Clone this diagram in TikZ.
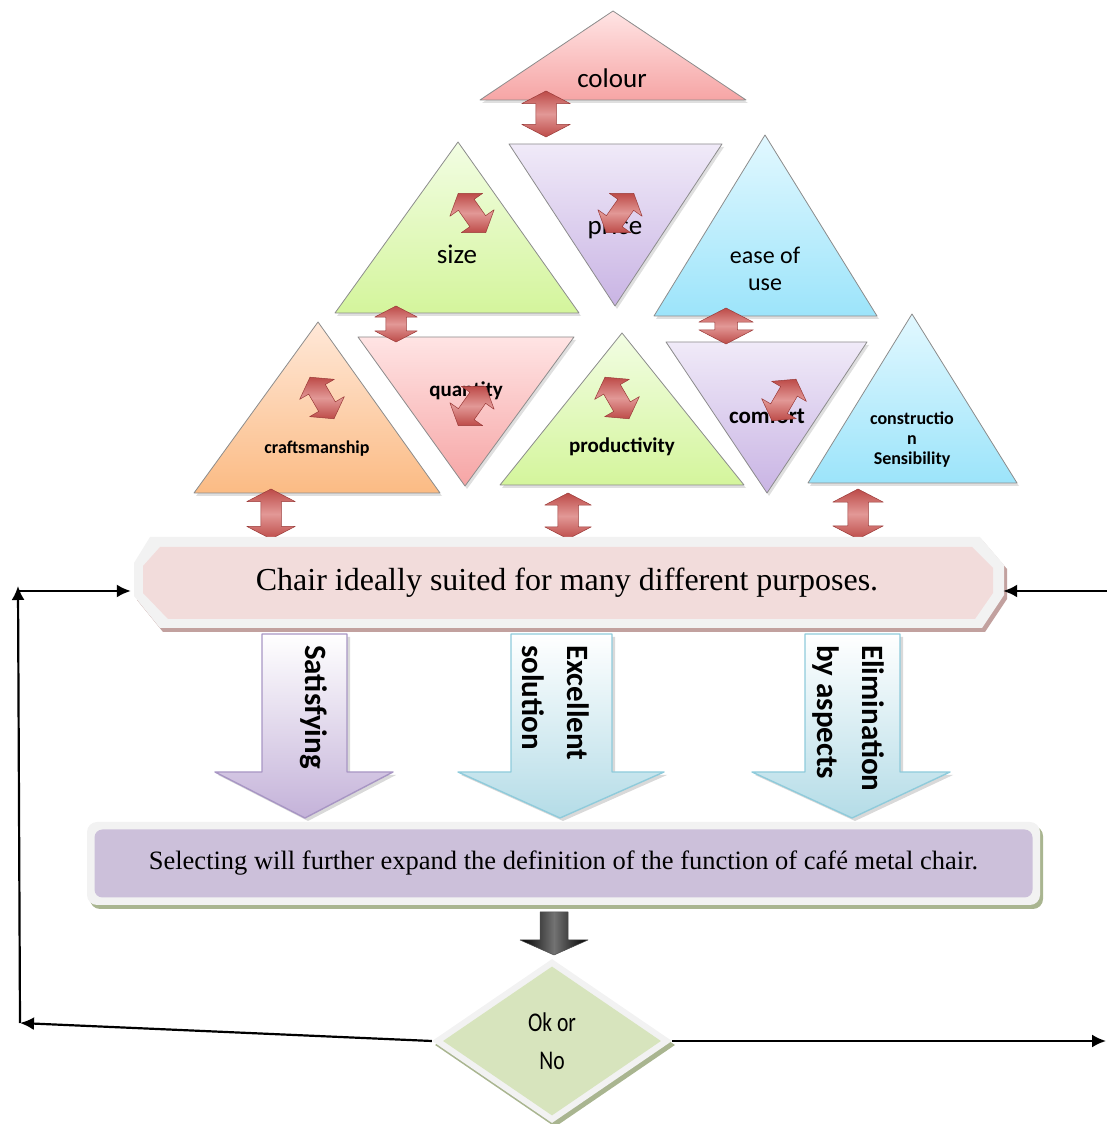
\documentclass[tikz,border=0pt]{standalone}
\usepackage{fontspec}
\setmainfont{Liberation Serif}
\newfontfamily\calibri{Carlito}
\newfontfamily\okfont[FakeStretch=0.8]{Carlito}
\usetikzlibrary{arrows.meta,shapes.arrows,shapes.geometric,shadows,positioning}
\definecolor{pinkT}{HTML}{FFE4E4}
\definecolor{pinkB}{HTML}{F6A5A5}
\definecolor{greenT}{HTML}{F2FDE3}
\definecolor{greenB}{HTML}{D4F59C}
\definecolor{lilaT}{HTML}{F0EAF8}
\definecolor{lilaB}{HTML}{C9B4E4}
\definecolor{blueT}{HTML}{E2F8FF}
\definecolor{blueB}{HTML}{9CE4FA}
\definecolor{orangeT}{HTML}{FFE8D8}
\definecolor{orangeB}{HTML}{FBBB84}
\definecolor{redA}{HTML}{BD4B48}
\definecolor{redL}{HTML}{E29896}
\definecolor{redD}{HTML}{9A3A38}
\definecolor{bannerpink}{HTML}{F2DCDB}
\definecolor{bannershadow}{HTML}{C2A19F}
\definecolor{boxlila}{HTML}{CCC0DA}
\definecolor{boxshadow}{HTML}{A9B590}
\definecolor{okgreen}{HTML}{D7E4BD}
\definecolor{arrlila}{HTML}{C4B2D9}
\definecolor{arrlilaD}{HTML}{A896C4}
\definecolor{arrblue}{HTML}{B4DCE7}
\definecolor{arrblueD}{HTML}{8FCBDB}
\tikzset{
  tri/.style={draw=black!45,line width=.8pt,drop shadow={opacity=.25,shadow xshift=2pt,shadow yshift=-3pt}},
  big/.style={font=\calibri\fontsize{27}{31}\selectfont,align=center},
  dbl/.style={double arrow,draw=redD,line width=.5pt,top color=redA,bottom color=redA,middle color=redL,
    inner xsep=0pt,inner ysep=10pt,double arrow tip angle=125,double arrow head extend=14pt},
  twist/.style={dbl,minimum height=48,minimum width=40,inner ysep=9pt,double arrow head extend=10pt,
    double arrow tip angle=110},
  downarr/.style={line width=1.4pt,drop shadow={opacity=.3,shadow xshift=3pt,shadow yshift=-3pt}},
  arrtxt/.style={font=\calibri\bfseries\fontsize{31}{45}\selectfont,rotate=-90,anchor=west,align=left,inner sep=0pt},
  conn/.style={line width=2.2pt,-{Latex[length=14pt,width=13pt]}}
}
\begin{document}
\begin{tikzpicture}[x=1pt,y=1pt,line join=round]
\useasboundingbox (0,0) rectangle (1107,1124);
% triangles
\path[tri,top color=pinkT,bottom color=pinkB] (480,1024)--(613,1113)--(746,1024)--cycle;
\path[tri,top color=greenT,bottom color=greenB] (335,811)--(458,982)--(579,811)--cycle;
\path[tri,top color=lilaT,bottom color=lilaB] (509,980)--(722,980)--(615,818)--cycle;
\path[tri,top color=blueT,bottom color=blueB] (654,808)--(765,989)--(877,808)--cycle;
\path[tri,top color=orangeT,bottom color=orangeB] (194,631)--(318,802)--(440,631)--cycle;
\path[tri,top color=pinkT,bottom color=pinkB] (358,787)--(574,787)--(465,638)--cycle;
\path[tri,top color=greenT,bottom color=greenB] (500,639)--(622,791)--(744,639)--cycle;
\path[tri,top color=lilaT,bottom color=lilaB] (666,782)--(867,782)--(767,631)--cycle;
\path[tri,top color=blueT,bottom color=blueB] (808,641)--(912,810)--(1017,641)--cycle;
\node[big] (colour) at (612,1046) {colour};
\node[big] (size) at (457,870) {size};
\node[big] (price) at (615,897) {price};
\node[big,font=\calibri\fontsize{24}{27}\selectfont] (ease) at (765,855) {ease of\\use};
\node[font=\calibri\bfseries\fontsize{18}{20}\selectfont] (craft) at (317,675) {craftsmanship};
\node[font=\calibri\bfseries\fontsize{21}{23}\selectfont] (qty) at (466,733) {quantity};
\node[font=\calibri\bfseries\fontsize{21}{23}\selectfont] (prod) at (622,677) {productivity};
\node[font=\calibri\bfseries\fontsize{23}{25}\selectfont] (comfort) at (767,708) {comfort};
\node[align=center,font=\calibri\bfseries\fontsize{18}{20}\selectfont] (constr) at (912,684) {constructio\\n\\Sensibility};
% twisted arrows
\node[twist,rotate=-55] (tw1) at (472,911) {};
\node[twist,rotate=55] (tw2) at (620,911) {};
\node[twist,rotate=-60] (tw3) at (322,726) {};
\node[twist,rotate=55] (tw4) at (472,718) {};
\node[twist,rotate=-60] (tw5) at (617,726) {};
\node[twist,rotate=60] (tw6) at (784,724) {};
% double arrows
\node[dbl,rotate=90,minimum height=46,minimum width=48] (a1) at (546,1010) {};
\node[dbl,rotate=90,minimum height=36,minimum width=42,double arrow head extend=11pt] (a2) at (396,800) {};
\node[dbl,rotate=90,minimum height=36,minimum width=54,inner ysep=11pt,double arrow head extend=16pt] (a3) at (726,798) {};
\node[dbl,rotate=90,minimum height=50,minimum width=48] (b1) at (271,610) {};
\node[dbl,rotate=90,minimum height=46,minimum width=46,double arrow head extend=13pt] (b2) at (568,608) {};
\node[dbl,rotate=90,minimum height=50,minimum width=50,double arrow head extend=15pt] (b3) at (858,610) {};
% banner
\fill[bannershadow] (153,583)--(983,583)--(1007,555)--(1007,525)--(985,492)--(163,492)--(137,524)--(137,557)--cycle;
\fill[black!5] (150,587)--(980,587)--(1004,559)--(1004,529)--(982,496)--(160,496)--(134,528)--(134,561)--cycle;
\fill[bannerpink] (160,577)--(972,577)--(993,556)--(993,531)--(975,505)--(168,505)--(143,531)--(143,558)--cycle;
\node[minimum width=872,minimum height=92,font=\fontsize{32}{36}\selectfont] (goal) at (567,541)
  {Chair ideally suited for many different purposes.};
% down arrows
\path[downarr,draw=arrlilaD,top color=white,bottom color=arrlila]
  (262,490)--(347,490)--(347,352)--(393,352)--(305,306)--(215,352)--(262,352)--cycle;
\path[downarr,draw=arrblueD,top color=white,bottom color=arrblue]
  (511,490)--(612,490)--(612,352)--(664,352)--(560,306)--(458,352)--(511,352)--cycle;
\path[downarr,draw=arrblueD,top color=white,bottom color=arrblue]
  (805,490)--(900,490)--(900,352)--(950,352)--(852,306)--(752,352)--(805,352)--cycle;
\node[arrtxt] (satis) at (314,479) {Satisfying};
\node[arrtxt] (excel) at (556,479) {Excellent\\solution};
\node[arrtxt] (elim) at (848,479) {Elimination\\by aspects};
% selecting box
\node[minimum width=953,minimum height=83,rounded corners=10,fill=black!5,
  drop shadow={opacity=1,fill=boxshadow,shadow xshift=3pt,shadow yshift=-4pt}] (selbox) at (563.5,260.5) {};
\node[minimum width=938,minimum height=68,rounded corners=8,fill=boxlila,font=\fontsize{26.5}{30}\selectfont] (sel) at (selbox)
  {Selecting will further expand the definition of the function of café metal chair.};
% black arrow
\path[left color=black,right color=black,middle color=black!55,draw=black!70,line width=.5pt]
  (540,212)--(568,212)--(568,184)--(588,184)--(554,169)--(520,184)--(540,184)--cycle;
% decision
\node[diamond,aspect=1.46,minimum width=240,minimum height=164,inner sep=0pt,fill=black!5,
  drop shadow={opacity=1,fill=boxshadow,shadow xshift=3pt,shadow yshift=-4pt}] (ok) at (552,83) {};
\node[diamond,aspect=1.46,minimum width=218,minimum height=149,inner sep=0pt,fill=okgreen,
  align=center,font=\okfont\fontsize{27}{38}\selectfont] (okin) at (ok) {Ok or\\No};
% connectors
\coordinate (lb) at (20,101);
\coordinate (lt) at (18,538);
\coordinate (lh) at (19,533);
\coordinate (rb) at (1107,533);
\coordinate (re) at (1106,79);
\draw[conn] (ok.west) -- (lb);
\draw[conn] (lb) -- (lt);
\draw[conn] (lh) -- ([yshift=-8pt]goal.west);
\draw[conn] (rb) -- ([yshift=-8pt]goal.east);
\draw[conn] (ok.east) -- (ok.east -| re);
\end{tikzpicture}
\end{document}
